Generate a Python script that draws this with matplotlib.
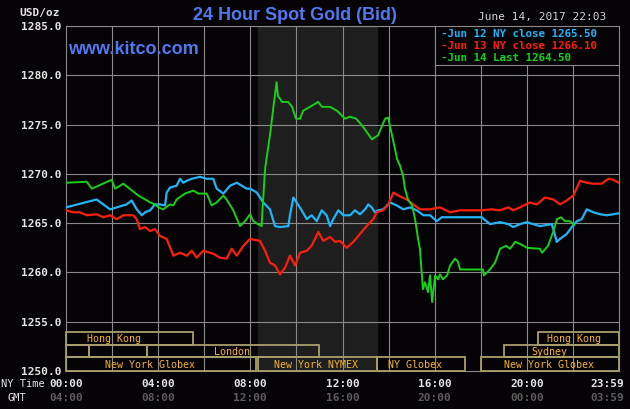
import matplotlib
matplotlib.use("Agg")
import matplotlib.pyplot as plt
from matplotlib.patches import Rectangle

# ---------------- DATA ----------------
# hours (NY time) and price (USD/oz)
jun12_hours = [0.0, 1.33, 1.91, 2.63, 2.85, 3.07, 3.29, 3.43, 3.65, 3.86, 4.08, 4.30, 4.37, 4.51,
               4.80, 4.95, 5.09, 5.24, 5.46, 5.82, 6.11, 6.39, 6.54, 6.83, 7.12, 7.41, 7.63, 7.84,
               7.99, 8.28, 8.56, 8.85, 9.07, 9.29, 9.65, 9.72, 9.87, 10.01, 10.23, 10.45, 10.66,
               10.88, 11.10, 11.31, 11.46, 11.60, 11.82, 12.04, 12.33, 12.54, 12.76, 12.98, 13.12,
               13.27, 13.41, 13.55, 13.77, 14.06, 14.35, 14.64, 14.93, 15.22, 15.51, 15.80, 16.09,
               16.31, 18.04, 18.40, 18.84, 19.20, 19.41, 19.70, 20.00, 20.28, 20.57, 21.08, 21.15,
               21.30, 21.44, 21.73, 21.95, 22.17, 22.38, 22.60, 22.89, 23.18, 23.47, 23.75, 24.0]
jun12_price = [1266.6, 1267.4, 1266.4, 1266.9, 1267.3, 1266.4, 1265.8, 1266.1, 1266.3, 1266.9,
               1266.9, 1266.8, 1268.1, 1268.6, 1268.8, 1269.5, 1269.1, 1269.3, 1269.5, 1269.7,
               1269.5, 1269.5, 1268.5, 1268.0, 1268.8, 1269.1, 1268.8, 1268.5, 1268.5, 1268.1,
               1267.1, 1266.4, 1264.7, 1264.6, 1264.7, 1265.8, 1267.6, 1267.1, 1266.3, 1265.4,
               1265.8, 1265.2, 1266.3, 1265.8, 1264.7, 1265.4, 1266.3, 1265.8, 1265.8, 1266.3,
               1265.9, 1266.4, 1266.9, 1266.6, 1266.1, 1266.3, 1266.4, 1267.1, 1266.8, 1266.4,
               1266.6, 1266.3, 1265.8, 1265.8, 1265.2, 1265.6, 1265.6, 1264.9, 1265.1, 1264.9,
               1264.6, 1264.9, 1265.1, 1264.9, 1264.7, 1264.9, 1264.4, 1263.1, 1263.4, 1263.9,
               1264.6, 1265.2, 1265.4, 1266.4, 1266.1, 1265.9, 1265.8, 1265.9, 1266.0]

jun13_hours = [0.0, 0.32, 0.61, 0.90, 1.33, 1.62, 1.91, 2.20, 2.49, 2.92, 3.07, 3.21, 3.43, 3.65,
               3.86, 4.08, 4.37, 4.66, 4.95, 5.24, 5.46, 5.67, 5.96, 6.39, 6.68, 6.97, 7.19, 7.41,
               7.70, 7.99, 8.42, 8.64, 8.85, 9.07, 9.29, 9.51, 9.72, 9.94, 10.16, 10.45, 10.66,
               10.95, 11.17, 11.46, 11.68, 11.89, 12.18, 12.47, 12.76, 13.12, 13.34, 13.48, 13.77,
               13.99, 14.21, 14.42, 14.79, 15.07, 15.36, 15.80, 16.23, 16.67, 17.10, 18.04, 18.48,
               18.84, 19.20, 19.41, 19.70, 20.14, 20.43, 20.79, 21.15, 21.44, 21.73, 22.02, 22.31,
               22.60, 22.89, 23.25, 23.54, 23.75, 24.0]
jun13_price = [1266.3, 1266.1, 1266.1, 1265.8, 1265.9, 1265.6, 1265.8, 1265.4, 1265.8, 1265.8,
               1265.4, 1264.4, 1264.6, 1264.2, 1264.4, 1263.7, 1263.4, 1261.7, 1262.0, 1261.7,
               1262.2, 1261.5, 1262.2, 1261.9, 1261.5, 1261.4, 1262.4, 1261.7, 1262.7, 1263.4,
               1263.2, 1262.2, 1261.0, 1260.7, 1259.8, 1260.5, 1261.7, 1260.7, 1262.0, 1262.2,
               1262.7, 1264.1, 1263.2, 1263.6, 1263.1, 1263.2, 1262.5, 1263.1, 1263.9, 1264.9,
               1265.4, 1266.1, 1266.3, 1266.9, 1268.1, 1267.8, 1267.4, 1266.9, 1266.4, 1266.4,
               1266.6, 1266.1, 1266.3, 1266.3, 1266.4, 1266.3, 1266.6, 1266.3, 1266.6, 1267.1,
               1266.9, 1267.6, 1267.4, 1266.9, 1267.3, 1267.8, 1269.3, 1269.1, 1269.0, 1269.0,
               1269.5, 1269.4, 1269.1]

jun14_hours = [0.0, 0.90, 1.12, 1.98, 2.13, 2.49, 3.14, 3.29, 3.65, 3.86, 4.01, 4.22, 4.51, 4.66,
               4.80, 5.16, 5.53, 5.74, 6.11, 6.32, 6.54, 6.83, 6.97, 7.26, 7.55, 7.77, 7.99, 8.13,
               8.33, 8.49, 8.53, 8.64, 8.85, 9.03, 9.14, 9.20, 9.38, 9.64, 9.81, 9.98, 10.16,
               10.29, 10.59, 10.94, 11.11, 11.46, 11.76, 12.11, 12.33, 12.59, 12.85, 13.28, 13.54,
               13.85, 13.98, 14.15, 14.28, 14.37, 14.50, 14.63, 14.71, 14.84, 15.02, 15.15, 15.28,
               15.36, 15.49, 15.58, 15.71, 15.80, 15.89, 16.02, 16.15, 16.23, 16.36, 16.54, 16.67,
               16.88, 17.01, 17.10, 18.10, 18.14, 18.40, 18.62, 18.84, 19.10, 19.27, 19.49, 19.70,
               20.01, 20.57, 20.66, 20.92, 21.14, 21.31, 21.48, 21.66, 21.88, 22.05]
jun14_price = [1269.1, 1269.2, 1268.5, 1269.4, 1268.5, 1269.0, 1267.8, 1267.6, 1267.1, 1266.9,
               1266.6, 1266.4, 1266.9, 1266.8, 1267.4, 1268.0, 1268.3, 1268.0, 1268.0, 1266.8,
               1267.1, 1267.8, 1267.4, 1266.3, 1264.7, 1265.2, 1265.9, 1265.2, 1264.9, 1264.7,
               1266.4, 1270.5, 1273.9, 1277.3, 1279.3, 1277.9, 1277.3, 1277.3, 1276.8, 1275.6,
               1275.6, 1276.4, 1276.8, 1277.3, 1276.8, 1276.8, 1276.4, 1275.6, 1275.8, 1275.6,
               1274.9, 1273.5, 1273.9, 1275.6, 1275.7, 1273.9, 1272.5, 1271.5, 1270.8, 1269.8,
               1268.5, 1267.4, 1266.8, 1265.4, 1263.4, 1262.4, 1258.3, 1259.0, 1258.0, 1259.7,
               1257.0, 1259.7, 1259.3, 1259.8, 1259.3, 1259.7, 1260.7, 1261.4, 1261.1, 1260.3,
               1260.3, 1259.7, 1260.3, 1261.0, 1262.4, 1262.7, 1262.4, 1263.1, 1262.9, 1262.5,
               1262.4, 1262.0, 1262.7, 1264.1, 1265.4, 1265.6, 1265.2, 1265.2, 1264.8]

legend_labels = ["Jun 12 NY close 1265.50", "Jun 13 NY close 1266.10", "Jun 14 Last 1264.50"]
y_ticks = [1250, 1255, 1260, 1265, 1270, 1275, 1280, 1285]
ny_labels = ["00:00", "04:00", "08:00", "12:00", "16:00", "20:00", "23:59"]
gmt_labels = ["04:00", "08:00", "12:00", "16:00", "20:00", "00:00", "03:59"]
label_hours = [0, 4, 8, 12, 16, 20, 24]

# market sessions: (name, start hour, end hour, row, label hour)
sessions = [
    ("Hong Kong", 0, 5.5, 0, 2.1),
    ("", 0, 1, 1, None),
    ("", 1, 3.5, 1, None),
    ("London", 3.5, 11, 1, 7.2),
    ("New York Globex", 0, 8.25, 2, 3.65),
    ("New York NYMEX", 8.33, 13.5, 2, 10.85),
    ("NY Globex", 13.5, 17.33, 2, 15.15),
    ("New York Globex", 18, 24, 2, 20.98),
    ("Sydney", 19, 24, 1, 21.0),
    ("Hong Kong", 20.5, 24, 0, 22.05),
]
nymex_open, nymex_close = 8.33, 13.5

# ---------------- STYLE ----------------
BG = "#060306"
GRID = "#8a8a8a"
BLUE = "#22b4f6"
RED = "#f8200c"
GREEN = "#18d018"
SESSION_EDGE = "#a89e6c"
SESSION_TEXT = "#f4b428"
MONO = "DejaVu Sans Mono"

W, H = 630, 410
fig = plt.figure(figsize=(6.3, 4.1), dpi=100, facecolor=BG)
ax = fig.add_axes([66 / W, 1 - 372 / H, 553 / W, 345 / H], facecolor=BG)
ax.set_xlim(0, 24)
ax.set_ylim(1250, 1285)

# NYMEX shading
ax.axvspan(nymex_open, nymex_close, color="#1e1e1e", zorder=0)

# grid
for h in range(2, 24, 2):
    ax.axvline(h, color=GRID, lw=0.8, zorder=1)
for p in y_ticks[1:]:
    ax.axhline(p, color=GRID, lw=0.8, zorder=1)
for s in ax.spines.values():
    s.set_color(GRID)
    s.set_linewidth(0.8)
ax.set_xticks([])
ax.set_yticks([])

# lines
ax.plot(jun12_hours, jun12_price, color=BLUE, lw=1.6, zorder=4)
ax.plot(jun13_hours, jun13_price, color=RED, lw=1.6, zorder=4)
ax.plot(jun14_hours, jun14_price, color=GREEN, lw=1.4, zorder=5)

# session bars
row_edges = [(1252.65, 1253.95), (1251.4, 1252.65), (1250.0, 1251.4)]
for name, start, end, row, lab in sessions:
    lo, hi = row_edges[row]
    ax.add_patch(Rectangle((start, lo), end - start, hi - lo, fill=False,
                           edgecolor=SESSION_EDGE, lw=1.3, zorder=3, clip_on=False))
    if name:
        ax.text(lab, (lo + hi) / 2, name, color=SESSION_TEXT, fontsize=7.2,
                family=MONO, ha="center", va="center", zorder=6)

# legend box
ax.add_patch(Rectangle((0.667, 0.887), 0.333, 0.113, transform=ax.transAxes,
                       facecolor=BG, edgecolor=GRID, lw=0.8, zorder=6))
for i, (lab, col) in enumerate(zip(legend_labels, [BLUE, RED, GREEN])):
    fig.text(441 / W, 1 - (34 + 12 * i) / H, "-" + lab, color=col, fontsize=7.8,
             family=MONO, weight="bold", va="center", ha="left", zorder=7)

# y tick labels
for p in y_ticks:
    py = 27 + (1285 - p) * 345 / 35
    fig.text(61 / W, 1 - py / H, f"{p:.1f}", color="#e4e4e4", fontsize=8,
             family=MONO, weight="bold", ha="right", va="center")
fig.text(40 / W, 1 - 13 / H, "USD/oz", color="#e4e4e4", fontsize=8,
         family=MONO, weight="bold", ha="center", va="center")

# x labels
for h, ny, gmt in zip(label_hours, ny_labels, gmt_labels):
    px = 66 + h * 553 / 24
    if h == 24:
        px = 607
    fig.text(px / W, 1 - 384 / H, ny, color="#e4e4e4", fontsize=8,
             family=MONO, weight="bold", ha="center", va="center")
    fig.text(px / W, 1 - 398 / H, gmt, color="#5c5c5c", fontsize=8,
             family=MONO, weight="bold", ha="center", va="center")
fig.text(23 / W, 1 - 384 / H, "NY Time", color="#e4e4e4", fontsize=7.5,
         family=MONO, ha="center", va="center")
fig.text(17 / W, 1 - 398 / H, "GMT", color="#e4e4e4", fontsize=7.5,
         family=MONO, ha="center", va="center")

# titles
fig.text(295 / W, 1 - 15 / H, "24 Hour Spot Gold (Bid)", color="#5078f0",
         fontsize=13, family="Liberation Sans", weight="bold", ha="center", va="center")
fig.text(68 / W, 1 - 49 / H, "www.kitco.com", color="#5078f0",
         fontsize=13, family="Liberation Sans", weight="bold", ha="left", va="center")
fig.text(542 / W, 1 - 17 / H, "June 14, 2017 22:03", color="#d4d4d4",
         fontsize=8, family=MONO, ha="center", va="center")

fig.savefig("out.png", dpi=100, facecolor=BG)
